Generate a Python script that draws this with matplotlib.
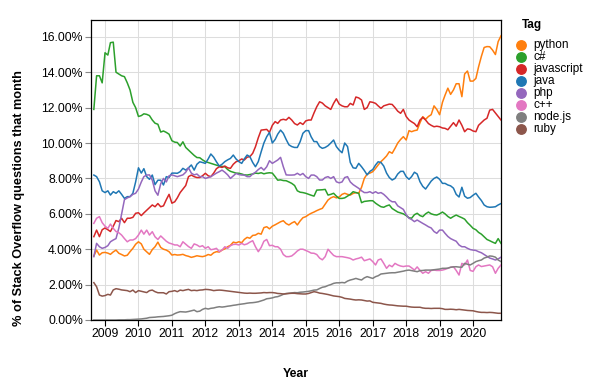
import matplotlib
matplotlib.use("Agg")
import matplotlib.pyplot as plt
from matplotlib.lines import Line2D
import pandas as pd
import datetime as dt

plt.rcParams['font.family'] = ['Liberation Sans', 'DejaVu Sans']

dates = pd.date_range('2008-09-01', periods=147, freq='MS')

tags = ['python', 'c#', 'javascript', 'java', 'php', 'c++', 'node.js', 'ruby']
colors = ['#ff7f0e', '#2ca02c', '#d62728', '#1f77b4', '#9467bd', '#e377c2', '#7f7f7f', '#8c564b']

python_vals = [
    3.62, 3.95, 3.67, 3.80,
    3.82, 3.78, 3.71, 3.85, 3.95, 3.77, 3.70, 3.62, 3.66, 3.86, 4.05, 4.28,
    4.42, 4.30, 4.00, 3.85, 3.71, 3.98, 4.14, 4.40, 4.10, 4.00, 3.95, 3.86,
    3.67, 3.70, 3.67, 3.68, 3.71, 3.64, 3.60, 3.54, 3.58, 3.63, 3.60, 3.58,
    3.62, 3.70, 3.66, 3.80, 3.86, 3.84, 3.95, 4.02, 4.14, 4.22, 4.40, 4.36,
    4.42, 4.37, 4.55, 4.67, 4.62, 4.78, 4.80, 4.90, 4.85, 5.22, 5.27, 5.15,
    5.30, 5.38, 5.46, 5.55, 5.61, 5.45, 5.37, 5.48, 5.56, 5.37, 5.60, 5.78,
    5.84, 5.95, 6.03, 6.10, 6.18, 6.25, 6.31, 6.55, 6.78, 6.90, 6.97, 6.90,
    6.95, 7.10, 7.16, 7.10, 7.06, 7.15, 7.20, 7.16, 7.50, 8.00, 8.25, 8.30,
    8.38, 8.57, 8.76, 8.95, 9.10, 9.27, 9.51, 9.42, 9.70, 10.00, 10.20, 10.36,
    10.17, 10.70, 10.64, 10.70, 10.73, 11.15, 11.49, 11.34, 11.50, 11.60, 12.10, 11.90,
    11.60, 12.30, 12.70, 13.10, 12.75, 13.00, 13.35, 13.35, 12.62, 13.90, 14.07, 13.50,
    13.50, 13.65, 14.30, 14.90, 15.40, 15.45, 15.44, 15.25, 15.00, 15.73, 16.06,
]

csharp_vals = [
    11.90, 13.80, 13.80, 13.40,
    15.10, 14.97, 15.67, 15.70, 14.00, 13.90, 13.80, 13.75, 13.40, 13.00, 12.30, 12.00,
    11.50, 11.55, 11.65, 11.62, 11.55, 11.30, 11.12, 11.06, 10.62, 10.68, 10.60, 10.50,
    10.13, 10.05, 10.03, 9.83, 10.07, 9.75, 9.60, 9.45, 9.30, 9.18, 9.17, 9.05,
    8.95, 8.90, 8.85, 8.80, 8.75, 8.70, 8.68, 8.66, 8.50, 8.40, 8.35, 8.30,
    8.29, 8.25, 8.20, 8.19, 8.22, 8.25, 8.30, 8.28, 8.32, 8.26, 8.30, 8.32,
    8.30, 8.10, 7.90, 7.92, 7.88, 7.87, 7.80, 7.72, 7.60, 7.30, 7.22, 7.20,
    7.16, 7.10, 7.05, 7.00, 7.34, 7.35, 7.36, 7.38, 7.06, 7.10, 7.16, 7.00,
    6.87, 6.87, 6.90, 7.00, 7.10, 7.25, 7.20, 7.16, 6.63, 6.70, 6.72, 6.74,
    6.74, 6.60, 6.50, 6.40, 6.37, 6.45, 6.50, 6.30, 6.20, 6.10, 6.05, 6.00,
    5.90, 5.78, 5.75, 5.95, 6.03, 5.90, 5.84, 6.00, 6.10, 6.00, 5.95, 5.93,
    6.00, 6.10, 6.00, 5.85, 5.75, 5.85, 5.93, 5.85, 5.78, 5.70, 5.50, 5.35,
    5.18, 5.10, 4.95, 4.85, 4.70, 4.55, 4.48, 4.40, 4.33, 4.60, 4.33,
]

javascript_vals = [
    4.71, 5.08, 4.71, 5.10,
    5.20, 5.10, 5.00, 5.30, 5.62, 5.56, 5.75, 5.50, 5.75, 5.75, 5.80, 6.03,
    6.06, 5.90, 6.05, 6.20, 6.35, 6.50, 6.40, 6.58, 6.40, 6.45, 6.80, 7.10,
    6.60, 6.68, 6.90, 7.20, 7.40, 7.60, 8.10, 8.19, 8.10, 8.05, 8.05, 8.15,
    8.29, 8.15, 8.10, 8.30, 8.55, 8.66, 8.62, 8.70, 8.60, 8.57, 8.80, 8.94,
    9.00, 9.10, 9.04, 9.20, 9.23, 9.42, 9.79, 10.30, 10.73, 10.75, 10.77, 10.60,
    11.00, 11.21, 11.11, 11.30, 11.34, 11.30, 11.45, 11.30, 11.10, 11.02, 11.15, 11.05,
    11.25, 11.30, 11.30, 11.70, 12.05, 12.33, 12.26, 12.10, 12.00, 11.90, 12.24, 12.50,
    12.20, 12.10, 12.05, 12.05, 12.24, 12.15, 12.60, 12.55, 12.43, 11.90, 12.00, 12.33,
    12.30, 12.24, 12.10, 11.96, 12.10, 12.15, 12.20, 12.18, 12.00, 11.80, 11.68, 11.90,
    11.50, 11.30, 11.20, 11.10, 10.92, 11.30, 11.45, 11.30, 11.10, 11.00, 10.92, 10.95,
    10.92, 10.85, 10.83, 10.75, 10.95, 11.15, 10.95, 11.30, 11.00, 10.64, 10.80, 10.77,
    10.68, 10.64, 11.00, 11.15, 11.30, 11.40, 11.86, 11.90, 11.70, 11.50, 11.30,
]

java_vals = [
    8.19, 8.10, 7.81, 7.30,
    7.20, 7.30, 7.06, 7.25, 7.16, 7.30, 7.10, 6.87, 6.97, 6.97, 7.16, 7.80,
    8.60, 8.30, 8.55, 8.10, 7.95, 8.19, 7.65, 7.90, 7.90, 7.63, 8.10, 8.05,
    8.30, 8.30, 8.29, 8.38, 8.57, 8.47, 8.60, 8.76, 8.47, 8.80, 8.94, 8.90,
    8.85, 9.10, 9.38, 9.20, 8.94, 8.70, 8.80, 8.95, 9.05, 9.13, 9.32, 9.10,
    8.95, 8.85, 9.10, 9.32, 9.23, 8.90, 8.66, 8.95, 9.50, 10.00, 10.36, 10.60,
    10.00, 10.20, 10.50, 10.73, 10.55, 10.20, 9.90, 9.80, 9.75, 9.75, 10.08, 10.55,
    10.70, 10.70, 10.35, 10.08, 10.08, 9.80, 9.70, 9.75, 9.85, 10.00, 10.17, 9.80,
    9.60, 9.45, 10.00, 9.80, 8.90, 8.60, 8.57, 8.85, 8.66, 8.45, 8.20, 8.40,
    8.50, 8.76, 8.94, 8.90, 8.70, 8.30, 8.05, 7.91, 8.00, 8.25, 8.40, 8.40,
    8.10, 7.95, 8.10, 8.35, 8.25, 7.81, 7.55, 7.40, 7.63, 7.85, 8.00, 8.08,
    7.95, 7.72, 7.72, 7.63, 7.58, 7.45, 7.10, 6.95, 7.50, 7.00, 6.88, 6.92,
    7.05, 7.16, 6.95, 6.75, 6.50, 6.40, 6.37, 6.38, 6.40, 6.50, 6.58,
]

php_vals = [
    3.58, 4.33, 4.14, 4.05,
    4.10, 4.20, 4.42, 4.52, 4.60, 5.20, 6.00, 6.80, 6.90, 6.97, 7.10, 7.16,
    7.40, 7.80, 8.10, 8.19, 8.20, 7.90, 7.30, 7.05, 7.70, 8.00, 7.80, 8.15,
    8.20, 8.15, 8.10, 8.15, 8.20, 8.35, 8.60, 8.30, 8.20, 8.25, 8.10, 8.10,
    8.00, 8.05, 8.10, 8.20, 8.30, 8.38, 8.47, 8.35, 8.20, 8.00, 8.14, 8.28,
    8.22, 8.19, 8.19, 8.10, 8.10, 8.25, 8.35, 8.50, 8.62, 8.47, 8.66, 9.00,
    8.85, 8.95, 9.04, 9.19, 8.66, 8.20, 8.19, 8.19, 8.20, 8.29, 8.19, 8.28,
    8.10, 8.00, 8.19, 8.19, 8.10, 7.91, 7.91, 8.05, 8.10, 8.00, 8.10, 7.81,
    7.75, 7.80, 8.05, 8.10, 7.80, 7.65, 7.55, 7.44, 7.30, 7.20, 7.20, 7.25,
    7.16, 7.25, 7.16, 7.20, 7.10, 6.95, 6.78, 6.68, 6.68, 6.45, 6.35, 6.25,
    5.95, 5.75, 5.68, 5.56, 5.65, 5.55, 5.46, 5.37, 5.27, 5.20, 5.00, 4.90,
    5.08, 5.08, 4.90, 4.72, 4.60, 4.52, 4.45, 4.24, 4.14, 4.14, 4.05, 3.98,
    3.95, 3.93, 3.86, 3.80, 3.70, 3.60, 3.50, 3.45, 3.39, 3.45, 3.55,
]

cpp_vals = [
    5.46, 5.75, 5.84, 5.50,
    5.30, 5.18, 5.42, 5.18, 5.00, 4.93, 4.80, 4.60, 4.42, 4.52, 4.52, 4.60,
    4.80, 5.08, 4.85, 5.08, 4.80, 4.99, 4.70, 4.55, 4.75, 4.60, 4.45, 4.35,
    4.30, 4.24, 4.24, 4.14, 4.42, 4.28, 4.15, 4.05, 4.30, 4.24, 4.14, 4.20,
    4.05, 4.14, 3.97, 4.00, 4.05, 3.86, 3.95, 4.14, 4.05, 4.20, 4.27, 4.28,
    4.24, 4.33, 4.25, 4.30, 4.40, 4.48, 4.14, 3.86, 4.10, 4.45, 4.55, 4.20,
    4.22, 4.14, 4.14, 4.00, 3.70, 3.58, 3.58, 3.62, 3.75, 3.90, 4.00, 4.00,
    3.93, 3.86, 3.78, 3.77, 3.70, 3.50, 3.40, 3.58, 4.00, 3.82, 3.65, 3.58,
    3.58, 3.58, 3.55, 3.52, 3.48, 3.39, 3.45, 3.49, 3.55, 3.35, 3.40, 3.45,
    3.30, 3.11, 3.39, 3.45, 3.20, 2.92, 3.10, 3.01, 3.20, 3.11, 3.05, 3.02,
    3.05, 3.05, 2.95, 2.82, 3.00, 2.80, 2.64, 2.73, 2.64, 2.80, 2.82, 2.80,
    2.80, 2.82, 2.86, 2.92, 2.98, 3.01, 2.80, 2.54, 3.20, 3.11, 3.39, 2.80,
    2.75, 3.01, 3.11, 3.02, 3.05, 3.08, 3.11, 3.01, 2.64, 2.92, 3.11,
]

nodejs_vals = [
    0.00, 0.00, 0.00, 0.00,
    0.00, 0.00, 0.00, 0.00, 0.00, 0.01, 0.01, 0.01, 0.02, 0.02, 0.03, 0.04,
    0.05, 0.06, 0.08, 0.10, 0.14, 0.15, 0.16, 0.18, 0.19, 0.20, 0.22, 0.24,
    0.27, 0.36, 0.42, 0.47, 0.46, 0.45, 0.48, 0.52, 0.56, 0.47, 0.50, 0.60,
    0.66, 0.62, 0.66, 0.68, 0.72, 0.75, 0.73, 0.75, 0.78, 0.80, 0.83, 0.85,
    0.88, 0.90, 0.92, 0.95, 0.97, 0.98, 1.00, 1.03, 1.08, 1.13, 1.20, 1.22,
    1.25, 1.30, 1.32, 1.38, 1.45, 1.50, 1.51, 1.53, 1.55, 1.54, 1.57, 1.58,
    1.60, 1.62, 1.65, 1.69, 1.70, 1.78, 1.85, 1.88, 1.95, 2.00, 2.07, 2.10,
    2.10, 2.12, 2.10, 2.20, 2.26, 2.30, 2.35, 2.30, 2.26, 2.38, 2.45, 2.40,
    2.35, 2.45, 2.50, 2.60, 2.62, 2.64, 2.66, 2.67, 2.67, 2.70, 2.73, 2.76,
    2.80, 2.82, 2.79, 2.76, 2.73, 2.79, 2.80, 2.82, 2.82, 2.82, 2.84, 2.86,
    2.88, 2.92, 2.92, 2.93, 2.98, 3.00, 3.01, 2.99, 2.98, 3.20, 3.15, 3.11,
    3.20, 3.30, 3.35, 3.39, 3.50, 3.55, 3.62, 3.60, 3.55, 3.39, 3.30,
]

ruby_vals = [
    2.11, 1.88, 1.41, 1.35,
    1.38, 1.45, 1.41, 1.70, 1.77, 1.74, 1.70, 1.68, 1.66, 1.60, 1.69, 1.55,
    1.66, 1.62, 1.58, 1.55, 1.66, 1.69, 1.60, 1.54, 1.54, 1.54, 1.47, 1.60,
    1.62, 1.66, 1.60, 1.69, 1.66, 1.70, 1.73, 1.66, 1.68, 1.66, 1.69, 1.70,
    1.73, 1.72, 1.70, 1.66, 1.68, 1.69, 1.68, 1.66, 1.64, 1.62, 1.60, 1.58,
    1.56, 1.54, 1.52, 1.51, 1.52, 1.51, 1.51, 1.52, 1.53, 1.55, 1.54, 1.55,
    1.55, 1.53, 1.50, 1.49, 1.47, 1.48, 1.50, 1.51, 1.51, 1.49, 1.48, 1.47,
    1.47, 1.50, 1.55, 1.60, 1.57, 1.52, 1.50, 1.47, 1.44, 1.40, 1.36, 1.34,
    1.32, 1.28, 1.22, 1.20, 1.18, 1.15, 1.13, 1.14, 1.13, 1.10, 1.07, 1.08,
    1.00, 0.98, 0.96, 0.94, 0.90, 0.87, 0.85, 0.84, 0.82, 0.80, 0.79, 0.78,
    0.78, 0.75, 0.73, 0.72, 0.72, 0.72, 0.68, 0.66, 0.66, 0.65, 0.66, 0.66,
    0.66, 0.64, 0.60, 0.60, 0.61, 0.60, 0.58, 0.60, 0.58, 0.56, 0.54, 0.53,
    0.52, 0.48, 0.45, 0.43, 0.43, 0.42, 0.43, 0.42, 0.40, 0.38, 0.38,
]

series = [python_vals, csharp_vals, javascript_vals, java_vals,
          php_vals, cpp_vals, nodejs_vals, ruby_vals]
for s in series:
    assert len(s) == len(dates), len(s)

year_ticks = list(range(2009, 2021))
y_ticks = [0, 2, 4, 6, 8, 10, 12, 14, 16]

W, H = 594, 387
fig = plt.figure(figsize=(W / 100, H / 100), dpi=100)
L, R, T, B = 91, 501, 19.5, 320
ax = fig.add_axes([L / W, 1 - B / H, (R - L) / W, (B - T) / H])

for vals, c in zip(series, colors):
    ax.plot(dates, vals, color=c, lw=1.1, solid_joinstyle='round', zorder=3)

ax.set_xlim(dt.datetime(2008, 8, 1), dt.datetime(2020, 11, 1))
ax.set_ylim(0, 16.98)
ax.set_xticks([dt.datetime(y, 1, 1) for y in year_ticks])
ax.set_xticklabels([str(y) for y in year_ticks])
ax.set_yticks(y_ticks)
ax.set_yticklabels([f"{v:.2f}%" for v in y_ticks])

ax.grid(True, color='#dddddd', lw=0.75, zorder=0)
ax.set_axisbelow(True)
for sp in ax.spines.values():
    sp.set_color('black')
    sp.set_linewidth(0.9)
ax.tick_params(axis='x', length=4, width=0.8, color='black', pad=1.5,
               labelsize=8.8, labelcolor='black')
ax.tick_params(axis='y', length=4, width=0.8, color='#888888', pad=1.8,
               labelsize=8.8, labelcolor='black')

fig.text(296 / W, 1 - 374 / H, 'Year', ha='center', va='center',
         fontsize=8.8, fontweight='bold')
fig.text(19 / W, 1 - 198 / H, '% of Stack Overflow questions that month',
         rotation=90, ha='center', va='center', fontsize=9.2, fontweight='bold')

# legend
fig.text(522 / W, 1 - 25 / H, 'Tag', ha='left', va='center',
         fontsize=8.5, fontweight='bold')
leg_y0, leg_dy = 45, 12.0
for i, (t, c) in enumerate(zip(tags, colors)):
    yy = 1 - (leg_y0 + i * leg_dy) / H
    fig.add_artist(Line2D([520.7 / W], [yy], marker='o', markersize=6.8,
                          markerfacecolor=c, markeredgecolor=c, linestyle='none',
                          transform=fig.transFigure))
    fig.text(533 / W, yy, t, ha='left', va='center', fontsize=8.5)

fig.savefig('out.png', dpi=100)
